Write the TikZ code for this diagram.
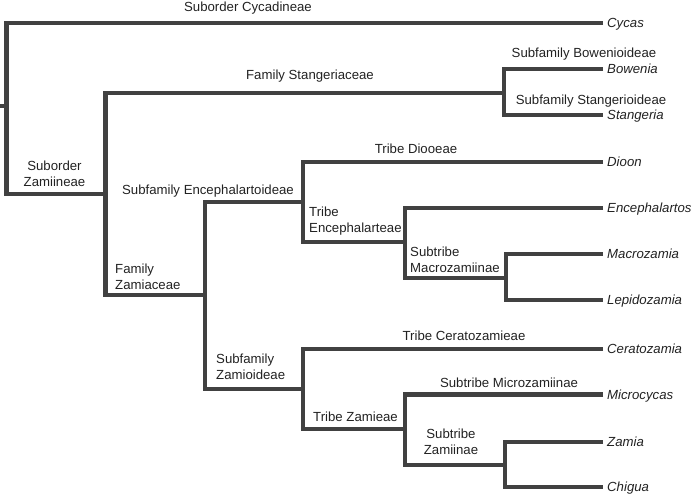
\documentclass[tikz,border=0pt]{standalone}
\usepackage{fontspec}
\setmainfont{Liberation Sans}
\usepackage{tikz}
\usetikzlibrary{positioning}
\usepackage{xcolor}
\definecolor{mygray}{HTML}{414141}
\definecolor{mytext}{HTML}{222222}
\tikzset{
	branch/.style={line width=4.6pt, mygray, line join=miter},
	taxon/.style={anchor=west, inner xsep=4pt, inner ysep=0pt, text height=9.5pt, text depth=0pt, font=\fontsize{13.2}{16}\selectfont\itshape, text=mytext},
	clade/.style={anchor=base, inner sep=0pt, font=\fontsize{13.2}{16}\selectfont, text=mytext},
	stacked/.style={inner sep=0pt, text depth=0pt, font=\fontsize{13.2}{16}\selectfont, text=mytext}
}
\begin{document}
\begin{tikzpicture}[x=1pt, y=-1pt]
				\useasboundingbox (0,0) rectangle (695,495);
				\coordinate (base) at (0,106);
				\coordinate (root) at (6.5,106);
				\coordinate (zamiineae) at (105.5,194);
				\coordinate (stangeriaceae) at (504,93);
				\coordinate (zamiaceae) at (205,295);
				\coordinate (encephalartoideae) at (303,202);
				\coordinate (encephalarteae) at (405,242);
				\coordinate (macrozamiinae) at (506,278);
				\coordinate (zamioideae) at (303,389);
				\coordinate (zamieae) at (405,429);
				\coordinate (zamiinae) at (505,465);
				\node[taxon] (cycas) at (603,23) {Cycas};
				\node[taxon] (bowenia) at (603,69) {Bowenia};
				\node[taxon] (stangeria) at (603,115) {Stangeria};
				\node[taxon] (dioon) at (603,162) {Dioon};
				\node[taxon] (encephalartos) at (603,208) {Encephalartos};
				\node[taxon] (macrozamia) at (603,254) {Macrozamia};
				\node[taxon] (lepidozamia) at (603,300) {Lepidozamia};
				\node[taxon] (ceratozamia) at (603,349) {Ceratozamia};
				\node[taxon] (microcycas) at (603,394.5) {Microcycas};
				\node[taxon] (zamia) at (603,442) {Zamia};
				\node[taxon] (chigua) at (603,487) {Chigua};
				\draw[branch] (base) -- (root);
				\draw[branch] (cycas.west) -| (root) |- (zamiineae);
				\draw[branch] (stangeriaceae) -| (zamiineae) |- (zamiaceae);
				\draw[branch] (bowenia.west) -| (stangeriaceae) |- (stangeria.west);
				\draw[branch] (encephalartoideae) -| (zamiaceae) |- (zamioideae);
				\draw[branch] (dioon.west) -| (encephalartoideae) |- (encephalarteae);
				\draw[branch] (encephalartos.west) -| (encephalarteae) |- (macrozamiinae);
				\draw[branch] (macrozamia.west) -| (macrozamiinae) |- (lepidozamia.west);
				\draw[branch] (ceratozamia.west) -| (zamioideae) |- (zamieae);
				\draw[branch] (microcycas.west) -| (zamieae) |- (zamiinae);
				\draw[branch] (zamia.west) -| (zamiinae) |- (chigua.west);
				\node[clade] (cycadineae-label) at (248,11.5) {Suborder Cycadineae};
				\node[clade] (stangeriaceae-label) at (310,79.5) {Family Stangeriaceae};
				\node[clade] (bowenioideae-label) at (584,58) {Subfamily Bowenioideae};
				\node[clade] (stangerioideae-label) at (591,104.5) {Subfamily Stangerioideae};
				\node[clade] (diooeae-label) at (416,153) {Tribe Diooeae};
				\node[clade] (encephalartoideae-label) at (208,194) {Subfamily Encephalartoideae};
				\node[clade] (ceratozamieae-label) at (464,340) {Tribe Ceratozamieae};
				\node[clade] (microzamiinae-label) at (509,387) {Subtribe Microzamiinae};
				\node[stacked, align=center, anchor=south] (zamiineae-label) at (54.5,187) {Suborder\\Zamiineae};
				\node[stacked, align=left, anchor=south west] (zamiaceae-label) at (115,289.5) {Family\\Zamiaceae};
				\node[stacked, align=left, anchor=south west] (encephalarteae-label) at (309,233) {Tribe\\Encephalarteae};
				\node[stacked, align=left, anchor=south west] (macrozamiinae-label) at (410,273) {Subtribe\\Macrozamiinae};
				\node[stacked, align=left, anchor=south west] (zamioideae-label) at (216,380) {Subfamily\\Zamioideae};
				\node[stacked, anchor=south west] (zamieae-label) at (313,422) {Tribe Zamieae};
				\node[stacked, align=center, anchor=south] (zamiinae-label) at (451,455) {Subtribe\\Zamiinae};
			\end{tikzpicture}
\end{document}
